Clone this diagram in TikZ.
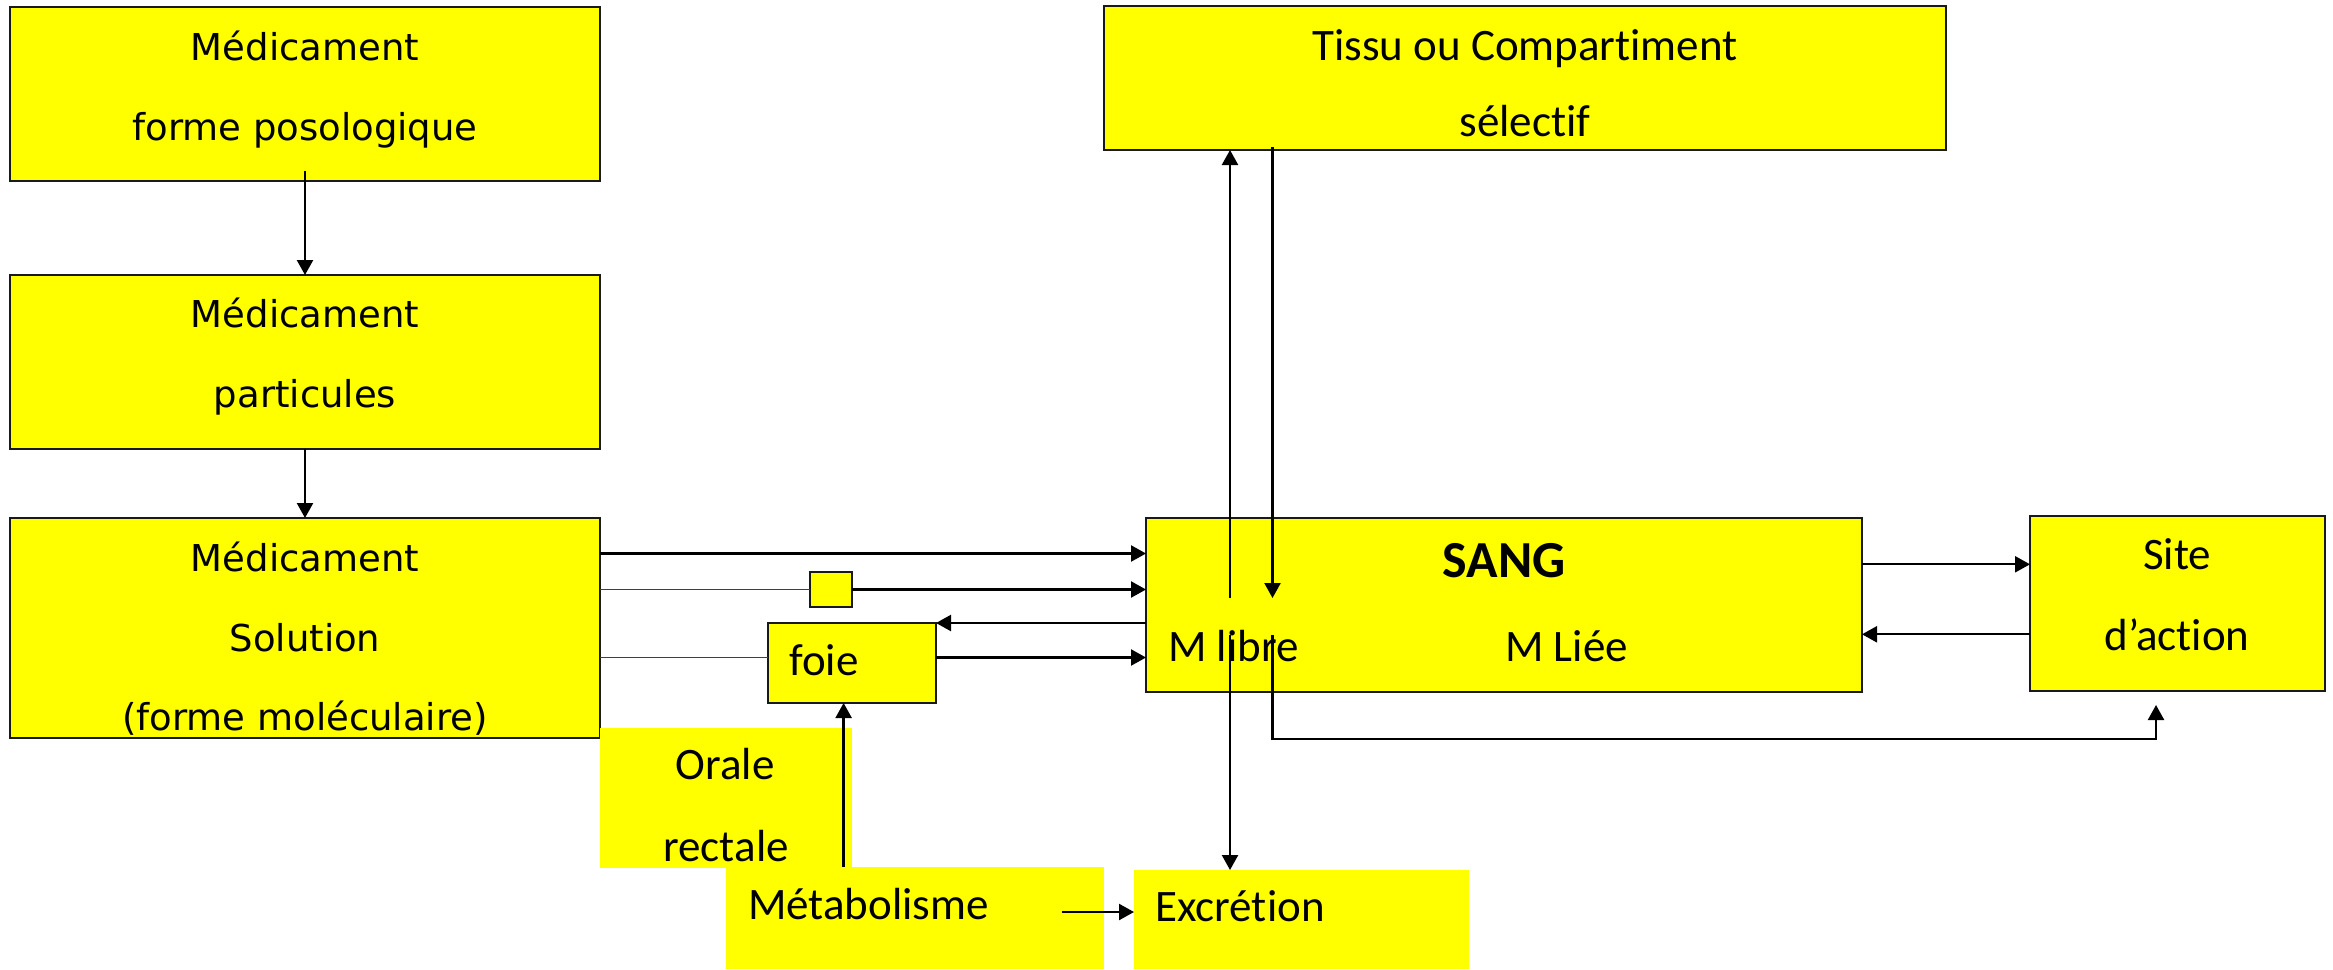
\documentclass[tikz,border=0pt]{standalone}
\usepackage{fontspec}
\setmainfont{Carlito}[Ligatures={NoCommon,NoContextual,NoRare},RawFeature={-calt}]
\newfontfamily\dvsans{DejaVu Sans}
\usetikzlibrary{arrows.meta}
\definecolor{boxyellow}{HTML}{FFFF00}
\begin{document}
\begin{tikzpicture}[x=1pt,y=-1pt,
  box/.style={draw=black!90, line width=1.8pt, fill=boxyellow, inner sep=0pt, outer sep=0pt, anchor=north west},
  patch/.style={fill=boxyellow, draw=none, inner sep=0pt, outer sep=0pt, anchor=north west},
  lbl/.style={inner sep=0pt, anchor=base, font=\fontsize{45}{54}\selectfont},
  lbll/.style={lbl, anchor=base west},
  dvlbl/.style={inner sep=0pt, anchor=base, font=\dvsans\fontsize{37}{44}\selectfont},
  conn/.style={line width=2.3pt, -{Triangle[length=15pt,width=16pt]}},
  feed/.style={line width=1.5pt, draw=black!75},
]
\useasboundingbox (0,0) rectangle (2333,969);

% boxes
\node[box, minimum width=590pt, minimum height=174pt] (b1) at (10,7) {};
\node[box, minimum width=590pt, minimum height=174pt] (b2) at (10,275) {};
\node[box, minimum width=590pt, minimum height=220pt] (b3) at (10,518) {};
\node[box, minimum width=842pt, minimum height=144pt] (tissu) at (1104,6) {};
\node[box, minimum width=716pt, minimum height=174pt] (sang) at (1146,518) {};
\node[box, minimum width=295pt, minimum height=175pt] (site) at (2030,515.7) {};
\node[box, minimum width=42pt, minimum height=35pt] (sq) at (810,572) {};
\node[box, minimum width=168pt, minimum height=80pt] (foie) at (768,623) {};
\node[patch, minimum width=252pt, minimum height=140pt] (orale) at (600,728) {};
\node[patch, minimum width=378pt, minimum height=102pt] (metab) at (726,867) {};
\node[patch, minimum width=335pt, minimum height=99pt] (excr) at (1134,870) {};

% texts
\node[dvlbl] (t1a) at (305,60.6) {Médicament};
\node[dvlbl] (t1b) at (305,140.6) {forme posologique};
\node[dvlbl] (t2a) at (305,327) {Médicament};
\node[dvlbl] (t2b) at (305,407) {particules};
\node[dvlbl] (t3a) at (305,571) {Médicament};
\node[dvlbl] (t3b) at (305,651) {Solution};
\node[dvlbl] (t3c) at (305,730) {(forme moléculaire)};
\node[lbl] (tta) at (1525,60) {Tissu ou Compartiment};
\node[lbl] (ttb) at (1525,136.7) {sélectif};
\node[lbl, font=\bfseries\fontsize{52}{60}\selectfont] (tsang) at (1504,577.6) {SANG};
\node[lbll] (tlibre) at (1168,661) {M libre};
\node[lbll] (tliee) at (1505,661) {M Liée};
\node[lbl] (tsa) at (2177,569) {Site};
\node[lbl] (tsb) at (2177,650) {d’action};
\node[lbll] (tfoie) at (789,675) {foie};
\node[lbl] (tor) at (725,779) {Orale};
\node[lbl] (tre) at (726,861) {rectale};
\node[lbll] (tmet) at (748,919) {Métabolisme};
\node[lbll] (texc) at (1155,921) {Excrétion};

% connectors: left column
\draw[conn] ([yshift=10pt]b1.south) -- (b2.north);
\draw[conn] (b2.south) -- (b3.north);

% routes into the blood
\path (b3.north east) ++(0,35.5) coordinate (h1);
\draw[conn] (h1) -- (h1 -| sang.west);
\draw[feed] (b3.east |- sq.west) -- (sq.west);
\draw[conn] (sq.east) -- (sq.east -| sang.west);
\draw[conn] (sang.west |- foie.north east) -- (foie.north east);
\path (b3.north east) ++(0,139.5) coordinate (h2);
\draw[feed] (h2) -- (h2 -| foie.west);
\draw[conn] (h2 -| foie.east) -- (h2 -| sang.west);

% metabolism and excretion
\path (foie.south west) ++(75.6,0) coordinate (v1);
\draw[conn] (v1 |- metab.north) -- (v1);
\path (metab.north east) ++(-42,45) coordinate (h3);
\draw[conn] (h3) -- (h3 -| excr.west);

% blood <-> tissue
\path (sang.north west) ++(84,80) coordinate (u1);
\draw[conn] (u1) -- (u1 |- tissu.south);
\path (sang.north west) ++(126.5,80) coordinate (d1);
\path (d1 |- tissu.south) ++(0,-3) coordinate (d0);
\draw[conn] (d0) -- (d1);

% free drug towards excretion and site of action
\path (sang.north west) ++(84,117) coordinate (u2);
\draw[conn] (u2) -- (u2 |- excr.north);
\path (sang.north west) ++(126.5,117) coordinate (d2);
\path (site.south west) ++(126,48) coordinate (c1);
\path (site.south -| c1) ++(0,14.3) coordinate (c2);
\draw[conn] (d2) |- (c1) -- (c2);

% blood <-> site of action
\path (sang.north east) ++(0,46.3) coordinate (s1);
\draw[conn] (s1) -- (s1 -| site.west);
\path (sang.north east) ++(0,116.3) coordinate (s2);
\draw[conn] (s2 -| site.west) -- (s2);
\end{tikzpicture}
\end{document}
